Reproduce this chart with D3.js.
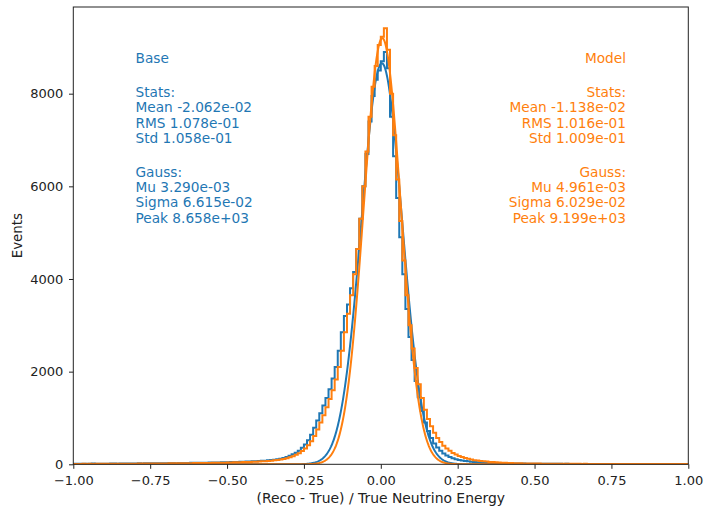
<!DOCTYPE html>
<html>
<head>
<meta charset="utf-8">
<script src="https://cdn.jsdelivr.net/npm/d3@7"></script>
<style>
  html, body { margin: 0; padding: 0; background: #fff; }
  svg { display: block; }
  text { font-family: "DejaVu Sans", sans-serif; }
</style>
</head>
<body>
<svg id="chart" width="704" height="507"></svg>
<script>
// ---------------- DATA ----------------
const binStart = -1.0;
const binWidth = 0.01;

// Base histogram counts, 200 bins of width 0.01 from -1.00 to 1.00
const baseCounts = [
  // -1.0 .. -0.9
  12, 10, 14, 11, 13, 12, 15, 13, 12, 14,
  // -0.9 .. -0.8
  14, 13, 15, 16, 14, 17, 15, 16, 18, 17,
  // -0.8 .. -0.7
  18, 20, 19, 21, 22, 20, 23, 22, 24, 25,
  // -0.7 .. -0.6
  24, 26, 27, 25, 28, 29, 28, 30, 31, 32,
  // -0.6 .. -0.5
  33, 34, 35, 36, 38, 37, 40, 41, 43, 44,
  // -0.5 .. -0.4
  46, 48, 50, 52, 54, 56, 59, 61, 64, 67,
  // -0.4 .. -0.3
  70, 74, 79, 85, 92, 100, 110, 122, 138, 158,
  // -0.3 .. -0.2
  185, 215, 250, 295, 355, 430, 520, 640, 790, 945,
  // -0.2 .. -0.1
  1100, 1270, 1430, 1620, 1850, 2100, 2450, 2850, 3200, 3450,
  // -0.1 .. 0.0
  3800, 4150, 4650, 5300, 6000, 6700, 7400, 7950, 8300, 8500,
  // 0.0 .. 0.1
  8700, 8900, 8550, 7500, 6650, 5750, 4900, 4100, 3350, 2750,
  // 0.1 .. 0.2
  2250, 1800, 1450, 1150, 900, 720, 570, 450, 360, 290,
  // 0.2 .. 0.3
  235, 190, 155, 130, 110, 95, 82, 72, 64, 57,
  // 0.3 .. 0.4
  51, 46, 42, 38, 35, 32, 29, 27, 25, 23,
  // 0.4 .. 0.5
  21, 20, 19, 18, 17, 16, 15, 14, 14, 13,
  // 0.5 .. 0.6
  12, 12, 11, 12, 11, 10, 11, 10, 10, 9,
  // 0.6 .. 0.7
  10, 9, 9, 8, 9, 8, 8, 9, 8, 7,
  // 0.7 .. 0.8
  8, 7, 7, 8, 7, 6, 7, 7, 6, 6,
  // 0.8 .. 0.9
  6, 7, 6, 6, 5, 6, 6, 5, 6, 5,
  // 0.9 .. 1.0
  5, 6, 5, 5, 6, 5, 4, 5, 5, 4
];

// Model histogram counts, same binning
const modelCounts = [
  // -1.0 .. -0.9
  8, 9, 8, 10, 9, 10, 9, 11, 10, 11,
  // -0.9 .. -0.8
  10, 11, 12, 11, 13, 12, 13, 14, 13, 14,
  // -0.8 .. -0.7
  14, 15, 16, 15, 17, 16, 18, 17, 19, 18,
  // -0.7 .. -0.6
  19, 21, 20, 22, 23, 22, 24, 25, 24, 26,
  // -0.6 .. -0.5
  26, 27, 28, 30, 29, 31, 32, 34, 35, 36,
  // -0.5 .. -0.4
  38, 40, 42, 44, 46, 48, 50, 52, 55, 57,
  // -0.4 .. -0.3
  60, 64, 68, 73, 79, 86, 94, 104, 116, 132,
  // -0.3 .. -0.2
  150, 175, 205, 240, 285, 340, 410, 500, 610, 750,
  // -0.2 .. -0.1
  900, 1060, 1230, 1410, 1600, 1830, 2100, 2450, 2850, 3250,
  // -0.1 .. 0.0
  3650, 4100, 4650, 5300, 6000, 6750, 7500, 8150, 8600, 9050,
  // 0.0 .. 0.1
  9230, 9410, 8950, 8000, 7100, 6150, 5250, 4400, 3650, 3000,
  // 0.1 .. 0.2
  2500, 2080, 1730, 1430, 1180, 980, 820, 680, 570, 480,
  // 0.2 .. 0.3
  400, 340, 290, 245, 210, 180, 155, 135, 118, 103,
  // 0.3 .. 0.4
  90, 80, 72, 65, 58, 52, 47, 42, 38, 34,
  // 0.4 .. 0.5
  31, 28, 26, 24, 22, 20, 19, 18, 17, 16,
  // 0.5 .. 0.6
  15, 15, 14, 14, 13, 13, 12, 12, 12, 11,
  // 0.6 .. 0.7
  11, 11, 10, 10, 10, 9, 10, 9, 9, 9,
  // 0.7 .. 0.8
  8, 9, 8, 8, 8, 7, 8, 7, 7, 7,
  // 0.8 .. 0.9
  7, 6, 7, 6, 6, 6, 6, 5, 6, 5,
  // 0.9 .. 1.0
  5, 5, 6, 5, 5, 4, 5, 5, 4, 5
];

// Gaussian fit parameters (as printed on the chart)
const seriesNames = ["Base", "Model"];
const fitMu = [3.290e-03, 4.961e-03];
const fitSigma = [6.615e-02, 6.029e-02];
const fitPeak = [8.658e+03, 9.199e+03];

// Annotation text
const baseText = ["Base", "", "Stats:", "Mean -2.062e-02", "RMS 1.078e-01", "Std 1.058e-01",
                  "", "Gauss:", "Mu 3.290e-03", "Sigma 6.615e-02", "Peak 8.658e+03"];
const modelText = ["Model", "", "Stats:", "Mean -1.138e-02", "RMS 1.016e-01", "Std 1.009e-01",
                   "", "Gauss:", "Mu 4.961e-03", "Sigma 6.029e-02", "Peak 9.199e+03"];

const xTicks = [-1.00, -0.75, -0.50, -0.25, 0.00, 0.25, 0.50, 0.75, 1.00];
const yTicks = [0, 2000, 4000, 6000, 8000];
const xLabel = "(Reco - True) / True Neutrino Energy";
const yLabel = "Events";
const colors = ["#1f77b4", "#ff7f0e"];

// ---------------- LAYOUT ----------------
const svg = d3.select("#chart");
const L = 73.3, R = 688.3, T = 7, B = 464.3;
const yMax = 9871;

const x = d3.scaleLinear().domain([-1, 1]).range([L, R]);
const y = d3.scaleLinear().domain([0, yMax]).range([B, T]);

svg.append("defs").append("clipPath").attr("id", "clip")
  .append("rect").attr("x", L).attr("y", T).attr("width", R - L).attr("height", B - T);

const plot = svg.append("g").attr("clip-path", "url(#clip)");

function stepPoints(counts) {
  const pts = [[binStart, 0]];
  counts.forEach((c, i) => {
    const x0 = binStart + i * binWidth;
    const x1 = binStart + (i + 1) * binWidth;
    pts.push([x0, c]);
    pts.push([x1, c]);
  });
  pts.push([binStart + counts.length * binWidth, 0]);
  return pts;
}

const line = d3.line().x(d => x(d[0])).y(d => y(d[1]));

function gaussPoints(k) {
  const pts = [];
  for (let i = 0; i <= 1000; i++) {
    const xv = -1 + i * 0.002;
    const z = (xv - fitMu[k]) / fitSigma[k];
    pts.push([xv, fitPeak[k] * Math.exp(-0.5 * z * z)]);
  }
  return pts;
}

const allCounts = [baseCounts, modelCounts];
[0, 1].forEach(k => {
  plot.append("path")
    .attr("d", line(stepPoints(allCounts[k])))
    .attr("fill", "none")
    .attr("stroke", colors[k])
    .attr("stroke-width", 2)
    .attr("stroke-linejoin", "miter");
  plot.append("path")
    .attr("d", line(gaussPoints(k)))
    .attr("fill", "none")
    .attr("stroke", colors[k])
    .attr("stroke-width", 2);
});

// ---------------- AXES ----------------
const axisColor = "#222";
const xAxis = d3.axisBottom(x).tickValues(xTicks).tickSize(4.5).tickPadding(7)
  .tickFormat(d => d3.format(".2f")(d).replace("-", "\u2212"));
const gx = svg.append("g").attr("transform", `translate(0,${B})`).call(xAxis);
gx.select(".domain").remove();
gx.selectAll("line").attr("stroke", axisColor);
gx.selectAll("text").attr("font-size", 13).attr("fill", "#222").attr("font-family", "DejaVu Sans");

const yAxis = d3.axisLeft(y).tickValues(yTicks).tickSize(4.3).tickPadding(5.7)
  .tickFormat(d3.format("d"));
const gy = svg.append("g").attr("transform", `translate(${L},0)`).call(yAxis);
gy.select(".domain").remove();
gy.selectAll("line").attr("stroke", axisColor);
gy.selectAll("text").attr("font-size", 13).attr("fill", "#222").attr("font-family", "DejaVu Sans");

// frame
svg.append("rect")
  .attr("x", L).attr("y", T).attr("width", R - L).attr("height", B - T)
  .attr("fill", "none").attr("stroke", axisColor).attr("stroke-width", 1);

// axis labels
svg.append("text")
  .attr("x", (L + R) / 2).attr("y", 503)
  .attr("text-anchor", "middle").attr("font-size", 13.9).attr("fill", "#222")
  .text(xLabel);
svg.append("text")
  .attr("transform", `translate(21.5,${(T + B) / 2}) rotate(-90)`)
  .attr("text-anchor", "middle").attr("font-size", 13.4).attr("fill", "#222")
  .text(yLabel);

// ---------------- ANNOTATIONS ----------------
const lineYs = [63.3, 80, 96.7, 112.3, 127.7, 143.3, 160, 176.7, 192, 207.3, 222.7];
function annotate(lines, xPos, anchor, color) {
  const g = svg.append("g");
  lines.forEach((t, i) => {
    if (!t) return;
    g.append("text")
      .attr("x", xPos).attr("y", lineYs[i])
      .attr("text-anchor", anchor)
      .attr("font-size", 13.7)
      .attr("fill", color)
      .text(t);
  });
}
annotate(baseText, 135.5, "start", colors[0]);
annotate(modelText, 626, "end", colors[1]);
</script>
</body>
</html>
